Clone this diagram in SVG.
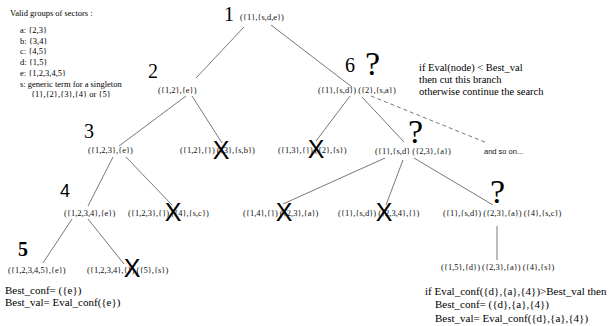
<svg xmlns="http://www.w3.org/2000/svg" width="609" height="326" viewBox="0 0 609 326">
<style>
.lbl{font-family:"Liberation Serif",serif;font-size:8.5px;fill:#111}
.num{font-family:"Liberation Serif",serif;font-size:20px;fill:#000}
.q{font-family:"Liberation Serif",serif;font-size:34px;fill:#000}
.x{font-family:"Liberation Sans",sans-serif;font-size:25px;fill:#000;text-anchor:middle}
.note{font-family:"Liberation Serif",serif;font-size:10.5px;fill:#000}
.big{font-family:"Liberation Serif",serif;font-size:11px;fill:#000}
.leg{font-family:"Liberation Serif",serif;font-size:8.5px;fill:#000}
.sans{font-family:"Liberation Sans",sans-serif;font-size:7.5px;fill:#111}
.edge{stroke:#555;stroke-width:0.8;fill:none}
.dash{stroke-dasharray:4 3}
</style>
<rect width="609" height="326" fill="#fff"/>
<g id="legend">
<text class="leg" x="10" y="16">Valid groups of sectors :</text>
<text class="leg" x="20" y="33">a: {2,3}</text>
<text class="leg" x="20" y="43.7">b: {3,4}</text>
<text class="leg" x="20" y="54.4">c: {4,5}</text>
<text class="leg" x="20" y="65.1">d: {1,5}</text>
<text class="leg" x="20" y="75.8">e: {1,2,3,4,5}</text>
<text class="leg" x="20" y="86.5">s: generic term for a singleton</text>
<text class="leg" x="31" y="97.2">{1},{2},{3},{4} or {5}</text>
</g>
<g id="connectors">
<line class="edge" x1="244" y1="27" x2="196" y2="78"/>
<line class="edge" x1="271" y1="25" x2="352" y2="87"/>
<line class="edge" x1="186" y1="96" x2="119" y2="146"/>
<line class="edge" x1="192" y1="96" x2="222" y2="143"/>
<line class="edge" x1="350" y1="96" x2="316" y2="141"/>
<line class="edge" x1="362" y1="97" x2="404" y2="142"/>
<line class="edge dash" x1="371" y1="96" x2="487" y2="143"/>
<line class="edge" x1="113" y1="157" x2="88" y2="206"/>
<line class="edge" x1="126" y1="157" x2="172" y2="205"/>
<line class="edge" x1="385" y1="158" x2="283" y2="204"/>
<line class="edge" x1="403" y1="160" x2="386" y2="205"/>
<line class="edge" x1="414" y1="158" x2="493" y2="205"/>
<line class="edge" x1="72" y1="219" x2="43" y2="263"/>
<line class="edge" x1="88" y1="219" x2="124" y2="264"/>
<line class="edge" x1="497" y1="226" x2="497" y2="260"/>
</g>
<g id="n1">
<text class="num" x="224" y="21">1</text>
<text class="lbl" x="240" y="20">({1},{s,d,e})</text>
</g>
<g id="n2">
<text class="num" x="148" y="78">2</text>
<text class="lbl" x="158" y="93">({1,2},{e})</text>
</g>
<g id="n6">
<text class="num" x="345" y="72">6</text>
<text class="q" x="365" y="75">?</text>
<text class="lbl" x="318" y="93">({1},{s,d}) ({2},{s,a})</text>
</g>
<g id="n3">
<text class="num" x="84" y="138">3</text>
<text class="lbl" x="88" y="153">({1,2,3},{e})</text>
</g>
<g id="n12-3">
<text class="lbl" x="180" y="153">({1,2},{}) ({3},{s,b})</text>
<text class="x" x="221" y="159">X</text>
</g>
<g id="n13-2">
<text class="lbl" x="278" y="153">({1,3},{}) ({2},{s})</text>
<text class="x" x="316" y="158">X</text>
</g>
<g id="n7">
<text class="q" x="408" y="143">?</text>
<text class="lbl" x="375" y="154">({1},{s,d} ({2,3},{a})</text>
</g>
<g id="more">
<text class="sans" x="484" y="154">and so on...</text>
</g>
<g id="n4">
<text font-family="Liberation Sans, sans-serif" font-size="18" x="60" y="197">4</text>
<text class="lbl" x="64" y="216">({1,2,3,4},{e})</text>
</g>
<g id="n123-4">
<text class="lbl" x="128" y="216">({1,2,3},{}) ({4},{s,c})</text>
<text class="x" x="173" y="221">X</text>
</g>
<g id="n14-23">
<text class="lbl" x="243" y="216">({1,4},{}) ({2,3},{a})</text>
<text class="x" x="284" y="221">X</text>
</g>
<g id="n1sd-234">
<text class="lbl" x="338" y="216">({1},{s,d}) ({2,3,4},{})</text>
<text class="x" x="384" y="221">X</text>
</g>
<g id="n8">
<text class="q" x="490" y="203">?</text>
<text class="lbl" x="443" y="216">({1},{s,d}) ({2,3},{a}) ({4},{s,c})</text>
</g>
<g id="n5">
<text class="num" font-weight="bold" x="18" y="256">5</text>
<text class="lbl" x="8" y="273">({1,2,3,4,5},{e})</text>
<text class="big" x="5" y="294">Best_conf= ({e})</text>
<text class="big" x="5" y="306">Best_val= Eval_conf({e})</text>
</g>
<g id="n1234-5">
<text class="lbl" x="87" y="273">({1,2,3,4},{}) ({5},{s})</text>
<text class="x" x="132" y="277">X</text>
</g>
<g id="n9">
<text class="lbl" x="441" y="270">({1,5},{d}) ({2,3},{a}) ({4},{s})</text>
<text class="big" x="425" y="295">if Eval_conf({d},{a},{4})&gt;Best_val then</text>
<text class="big" x="435" y="308">Best_conf= ({d},{a},{4})</text>
<text class="big" x="435" y="322">Best_val= Eval_conf({d},{a},{4})</text>
</g>
<g id="rule">
<text class="note" x="419" y="71">if Eval(node) &lt; Best_val</text>
<text class="note" x="419" y="83">then cut this branch</text>
<text class="note" x="419" y="95">otherwise continue the search</text>
</g>
</svg>
